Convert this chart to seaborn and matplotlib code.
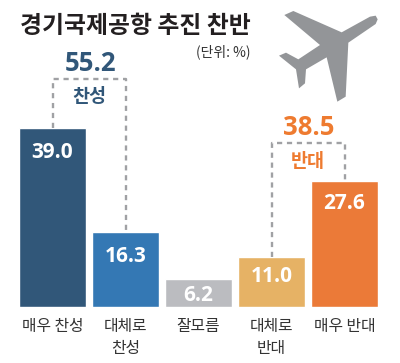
import matplotlib
matplotlib.use("Agg")
import matplotlib.pyplot as plt
from matplotlib.patches import Polygon
from matplotlib.transforms import Affine2D
import pandas as pd
import seaborn as sns

# datos
categorias = ["매우 찬성", "대체로\n찬성", "잘모름", "대체로\n반대", "매우 반대"]
valores = [39.0, 16.3, 6.2, 11.0, 27.6]
colores = ["#315779", "#3478b4", "#bbbcc0", "#e6b265", "#eb7a38"]
total_etiquetas = ["55.2", "38.5"]
grupo_etiquetas = ["찬성", "반대"]
# distancia de cada valor al tope de su barra (puntos)
bajada = [-9.5, -10, -4.5, -6.5, -9]

sns.set_theme(style="white")
plt.rcParams["font.family"] = ["Noto Sans CJK KR", "DejaVu Sans"]

W, H = 400, 363
fig = plt.figure(figsize=(W / 100, H / 100), dpi=100, facecolor="white")
# eje: base en y=307 px, barras cada 73 px
ax = fig.add_axes([16 / W, (H - 307) / H, 365 / W, 307 / H])

df = pd.DataFrame({"cat": categorias, "valor": valores})
sns.barplot(data=df, x="cat", y="valor", hue="cat", palette=colores, legend=False,
            width=0.915, saturation=1, ax=ax)
ax.set_xlim(-0.5, 4.5)
ax.set_ylim(0, 307 / 4.58)
ax.axis("off")

# valores dentro de las barras
for i, v in enumerate(valores):
    ax.annotate(f"{v:.1f}", (i, v), xytext=(0, bajada[i]), textcoords="offset points",
                ha="center", va="top", color="white", fontsize=15,
                fontweight="bold", family="Open Sans")
    ax.annotate(categorias[i], (i, 0), xytext=(0, -8), textcoords="offset points",
                ha="center", va="top", color="#333333", fontsize=11.4, linespacing=1.4)

# corchetes punteados
gris = "#a0a1a4"
tramos = [(0, 1, 49.8, total_etiquetas[0], grupo_etiquetas[0], "#315779"),
          (3, 4, 35.7, total_etiquetas[1], grupo_etiquetas[1], "#ee7b30")]
for a, b, alto, total, grupo, color in tramos:
    ax.plot([a, a, b, b], [valores[a], alto, alto, valores[b]], color=gris,
            lw=1.7, dashes=(2.2, 2.0), zorder=1)
    medio = (a + b) / 2
    ax.annotate(total, (medio, alto), xytext=(0.8, 1.5), textcoords="offset points",
                ha="center", va="bottom", color=color, fontsize=18.5,
                fontweight="bold", family="Open Sans")
    ax.annotate(grupo, (medio, alto), xytext=(0, -6), textcoords="offset points",
                ha="center", va="top", color=color, fontsize=13.3, fontweight="bold")

# titulo y unidad
fig.text(20 / W, 1 - 26 / H, "경기국제공항 추진 찬반", fontsize=17.2, fontweight="bold",
         color="#231f20", ha="left", va="center")
fig.text(250 / W, 1 - 52 / H, "(단위: %)", fontsize=10, color="#333333",
         ha="right", va="center")

# avion
puntos = [(253, 45), (280, 33), (425, 97), (510, 50), (527, 47), (533, 58), (527, 72),
          (445, 128), (437, 290), (412, 305), (380, 172), (318, 208), (315, 250),
          (297, 265), (288, 208), (237, 167), (258, 158), (295, 178), (360, 135)]
px = [(200 + x / 3, H - y / 3) for x, y in puntos]
fig.add_artist(Polygon(px, closed=True, facecolor="#939598", edgecolor="none",
                       transform=Affine2D().scale(1 / W, 1 / H) + fig.transFigure))

fig.savefig("out.png", dpi=100)
